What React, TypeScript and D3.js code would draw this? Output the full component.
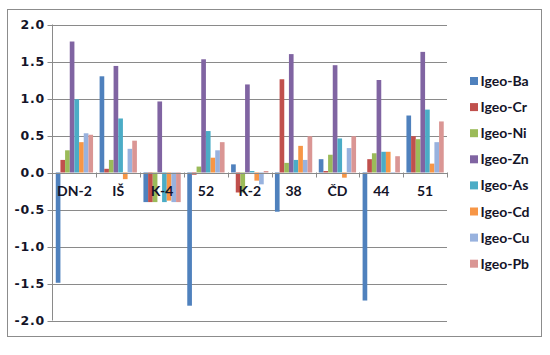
import * as React from "react";
import { scaleBand, scaleLinear } from "d3";

const categories = ["DN-2", "IŠ", "K-4", "52", "K-2", "38", "ČD", "44", "51"];
const seriesNames = ["Igeo-Ba", "Igeo-Cr", "Igeo-Ni", "Igeo-Zn", "Igeo-As", "Igeo-Cd", "Igeo-Cu", "Igeo-Pb"];
const colors = ["#4F81BD", "#C0504D", "#9BBB59", "#8064A2", "#4BACC6", "#F79646", "#98B2DE", "#DA9694"];

const ba = [-1.49, 1.3, -0.4, -1.8, 0.11, -0.53, 0.18, -1.73, 0.77];
const cr = [0.17, 0.05, -0.4, -0.03, -0.27, 1.26, 0.02, 0.18, 0.49];
const ni = [0.3, 0.17, -0.4, 0.08, -0.27, 0.13, 0.24, 0.26, 0.45];
const zn = [1.77, 1.44, 0.96, 1.53, 1.19, 1.6, 1.45, 1.25, 1.63];
const as = [0.99, 0.73, -0.4, 0.56, 0.02, 0.17, 0.46, 0.28, 0.85];
const cd = [0.41, -0.09, -0.38, 0.2, -0.11, 0.36, -0.07, 0.28, 0.12];
const cu = [0.53, 0.32, -0.4, 0.3, -0.16, 0.17, 0.33, -0.02, 0.41];
const pb = [0.51, 0.43, -0.4, 0.41, 0.02, 0.49, 0.49, 0.22, 0.69];
const series = [ba, cr, ni, zn, as, cd, cu, pb];

const yTicks = [-2.0, -1.5, -1.0, -0.5, 0.0, 0.5, 1.0, 1.5, 2.0];

const textColor = "#141428";
const gridColor = "#8a8a8a";

export default function App() {
  const width = 550;
  const height = 355;
  const plot = { left: 52.5, right: 447, top: 24.5, bottom: 320.5 };

  const x0 = scaleBand<string>()
    .domain(categories)
    .range([plot.left, plot.right])
    .padding(0);
  const x1 = scaleBand<string>()
    .domain(seriesNames)
    .range([0, x0.bandwidth()])
    .paddingInner(0)
    .paddingOuter(0.7);
  const y = scaleLinear().domain([-2, 2]).range([plot.bottom, plot.top]);

  const legendX = 470;
  const legendY0 = 81;
  const legendStep = 26.1;

  return (
    <svg
      width={width}
      height={height}
      style={{ position: "absolute", left: 0, top: 0 }}
    >
      <rect x={0} y={0} width={width} height={height} fill="#fff" />
      <rect
        x={7.5}
        y={9.5}
        width={534}
        height={327}
        fill="none"
        stroke="#8c8c8c"
        strokeWidth={1}
      />

      {/* gridlines + y ticks */}
      {yTicks.map((t) => (
        <g key={`g-${t}`}>
          <line
            x1={plot.left - 5}
            x2={plot.right}
            y1={Math.round(y(t)) + 0.5}
            y2={Math.round(y(t)) + 0.5}
            stroke={gridColor}
          />
          <text
            x={45}
            y={y(t)}
            dy="0.35em"
            textAnchor="end"
            fontFamily="'DejaVu Sans', sans-serif"
            fontWeight="bold"
            fontSize={12.5}
            letterSpacing={0.8}
            fill={textColor}
          >
            {t.toFixed(1)}
          </text>
        </g>
      ))}
      <line
        x1={plot.left}
        x2={plot.left}
        y1={plot.top}
        y2={plot.bottom}
        stroke={gridColor}
      />

      {/* bars */}
      {categories.map((c, ci) => (
        <g key={`c-${c}`} transform={`translate(${x0(c)},0)`}>
          {seriesNames.map((s, si) => {
            const v = series[si][ci];
            return (
              <rect
                key={`b-${c}-${s}`}
                x={x1(s)}
                y={y(Math.max(0, v))}
                width={x1.bandwidth()}
                height={Math.abs(y(v) - y(0))}
                fill={colors[si]}
              />
            );
          })}
        </g>
      ))}

      {/* x axis at zero */}
      <line
        x1={plot.left}
        x2={plot.right}
        y1={Math.round(y(0)) + 0.5}
        y2={Math.round(y(0)) + 0.5}
        stroke={gridColor}
      />
      {categories.map((c) => (
        <line
          key={`t-${c}`}
          x1={Math.round((x0(c) as number) + x0.bandwidth()) + 0.5}
          x2={Math.round((x0(c) as number) + x0.bandwidth()) + 0.5}
          y1={y(0)}
          y2={y(0) + 5}
          stroke={gridColor}
        />
      ))}
      {categories.map((c) => (
        <text
          key={`l-${c}`}
          x={(x0(c) as number) + x0.bandwidth() / 2}
          y={196}
          textAnchor="middle"
          fontFamily="Lato, sans-serif"
          fontWeight="bold"
          fontSize={14}
          fill={textColor}
        >
          {c}
        </text>
      ))}

      {/* legend */}
      {seriesNames.map((s, i) => (
        <g key={`lg-${s}`}>
          <rect
            x={legendX}
            y={legendY0 + i * legendStep - 4}
            width={8}
            height={8}
            fill={colors[i]}
          />
          <text
            x={legendX + 10.5}
            y={legendY0 + i * legendStep}
            dy="0.36em"
            fontFamily="Lato, sans-serif"
            fontWeight="bold"
            fontSize={14}
            fill={textColor}
          >
            {s}
          </text>
        </g>
      ))}
    </svg>
  );
}
